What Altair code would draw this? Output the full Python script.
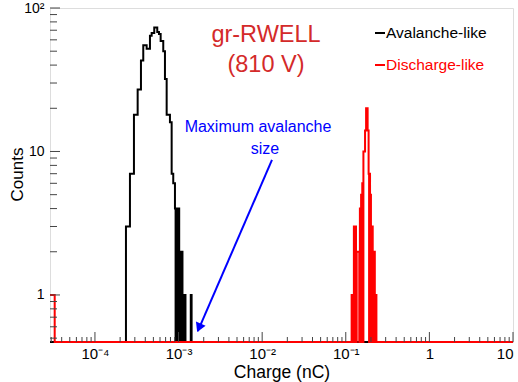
import altair as alt
import pandas as pd

X_MIN, X_MAX = 2.9e-5, 10.0
Y_MIN, Y_MAX = 0.47, 100.0
W, H = 463, 334
FONT = "Liberation Sans"

# Avalanche-like histogram: main body (bin edges in nC, counts per bin)
aval_body_edges = [2.349e-4, 2.622e-4, 2.927e-4, 3.242e-4, 3.550e-4, 3.783e-4, 4.153e-4,
                   4.549e-4, 4.767e-4, 5.120e-4, 5.562e-4, 5.830e-4, 6.107e-4, 6.561e-4,
                   6.875e-4, 7.206e-4, 7.889e-4, 8.268e-4, 8.640e-4, 9.056e-4]
aval_body_counts = [3, 7, 18, 27, 43, 55, 52, 64, 67, 73, 68, 66, 59, 50, 32, 18, 16, 7, 6]
# Avalanche-like tail: fine bins starting at 9.056e-4 nC, width 1.6e-5 nC
aval_tail_lo, aval_tail_w = 9.056e-4, 1.6e-5
aval_tail_counts = [4, 0, 4, 0, 4, 0, 4, 0, 2, 0, 2, 0, 2, 0, 1, 0, 1, 0, 1, 0]
# isolated last avalanche bin
aval_last_bin = [1.400e-3, 1.432e-3]
aval_last_count = 1

# Discharge-like histogram: one low bin at the left edge, then fine bins
disc_low_bin = [X_MIN, 3.3e-5]
disc_low_count = 1
disc_lo, disc_w = 0.1175, 0.0025
disc_counts = [1, 0, 1, 3, 0, 3, 0, 2, 2, 2, 2, 0, 4, 0, 5, 0, 6, 0,
               10, 10, 10, 14, 14, 20, 20, 20, 14, 14, 7, 0, 7, 0, 5, 0, 3, 0, 3,
               0, 0, 2, 0, 2, 0, 1, 0, 1, 0]

x_major = [1e-4, 1e-3, 1e-2, 1e-1, 1.0, 10.0]
y_major = [1.0, 10.0, 100.0]


def grid(lo, w, n):
    return [lo + i * w for i in range(n + 1)]


def steps(edges, counts):
    return pd.DataFrame({"q": list(edges), "n": list(counts) + [counts[-1]]})


tail_edges = grid(aval_tail_lo, aval_tail_w, len(aval_tail_counts))
aval_edges = ([X_MIN] + aval_body_edges + tail_edges[1:] + aval_last_bin + [X_MAX])
aval_counts = ([0] + aval_body_counts + aval_tail_counts + [0, aval_last_count, 0])

disc_grid = grid(disc_lo, disc_w, len(disc_counts))
disc_edges = disc_low_bin + disc_grid + [X_MAX]
disc_all = [disc_low_count, 0] + disc_counts + [0]

x_minor = [k * 10.0 ** e for e in range(-5, 1) for k in range(2, 10)
           if X_MIN <= k * 10.0 ** e <= X_MAX]
y_minor = [k * 10.0 ** e for e in range(-1, 2) for k in range(2, 10)
           if Y_MIN <= k * 10.0 ** e <= Y_MAX]

xs = alt.Scale(type="log", domain=[X_MIN, X_MAX], nice=False)
ys = alt.Scale(type="log", domain=[Y_MIN, Y_MAX], nice=False)

x_label_expr = ("datum.value < 0.0005 ? '10⁻⁴' : datum.value < 0.005 ? '10⁻³' : "
                "datum.value < 0.05 ? '10⁻²' : datum.value < 0.5 ? '10⁻¹' : "
                "datum.value < 5 ? '1' : '10'")
y_label_expr = "datum.value > 50 ? '10²' : datum.value > 5 ? '10' : '1'"


def hist_layer(df, color, with_axes=False):
    if with_axes:
        xenc = alt.X("q:Q", scale=xs, axis=alt.Axis(
            values=x_major, labelExpr=x_label_expr, ticks=False, tickSize=0, domain=False,
            grid=False, labelFont=FONT, labelFontSize=15, labelColor="black", labelPadding=4,
            title="Charge (nC)", titleFont=FONT, titleFontSize=17.5, titleFontWeight="normal",
            titleColor="black", titlePadding=2))
        yenc = alt.Y("yp:Q", scale=ys, axis=alt.Axis(
            values=y_major, labelExpr=y_label_expr, ticks=False, tickSize=0, domain=False,
            grid=False, labelFont=FONT, labelFontSize=14, labelColor="black", labelPadding=6,
            title="Counts", titleFont=FONT, titleFontSize=17, titleFontWeight="normal",
            titleColor="black", titleX=-32.5, titleY=H / 2 - 1, titleAngle=270,
            titleBaseline="middle", titleAlign="center"))
    else:
        xenc = alt.X("q:Q", scale=xs)
        yenc = alt.Y("yp:Q", scale=ys)
    return (alt.Chart(df)
            .transform_calculate(yp=f"max(datum.n, {Y_MIN})")
            .mark_line(interpolate="step-after", color=color, strokeWidth=2)
            .encode(x=xenc, y=yenc))


aval = hist_layer(steps(aval_edges, aval_counts), "black", with_axes=True)
disc = hist_layer(steps(disc_edges, disc_all), "#ff0000")

tick_col = "#444444"
xt_major = alt.Chart(pd.DataFrame({"q": x_major})).mark_rule(color=tick_col, strokeWidth=1).encode(
    x=alt.X("q:Q", scale=xs), y=alt.value(H), y2=alt.value(H - 10))
xt_minor = alt.Chart(pd.DataFrame({"q": x_minor})).mark_rule(color=tick_col, strokeWidth=1).encode(
    x=alt.X("q:Q", scale=xs), y=alt.value(H), y2=alt.value(H - 5))
yt_major = alt.Chart(pd.DataFrame({"yp": y_major})).mark_rule(color=tick_col, strokeWidth=1).encode(
    y=alt.Y("yp:Q", scale=ys), x=alt.value(0), x2=alt.value(10))
yt_minor = alt.Chart(pd.DataFrame({"yp": y_minor})).mark_rule(color=tick_col, strokeWidth=1).encode(
    y=alt.Y("yp:Q", scale=ys), x=alt.value(0), x2=alt.value(7))

# Annotation arrow (data coordinates)
arrow_df = pd.DataFrame({"q": [0.0131], "yp": [8.73], "q2": [1.70e-3], "yp2": [0.56]})
arrow = alt.Chart(arrow_df).mark_rule(color="#0000ff", strokeWidth=2).encode(
    x=alt.X("q:Q", scale=xs), y=alt.Y("yp:Q", scale=ys), x2="q2:Q", y2="yp2:Q")
head = alt.Chart(pd.DataFrame({"q": [1.755e-3], "yp": [0.59]})).mark_point(
    shape="triangle-up", filled=True, color="#0000ff", size=110, angle=203, opacity=1).encode(
    x=alt.X("q:Q", scale=xs), y=alt.Y("yp:Q", scale=ys))


def label(text, x, y, size, color, align="center"):
    return alt.Chart(pd.DataFrame({"t": [text]})).mark_text(
        font=FONT, fontSize=size, color=color, align=align, baseline="middle").encode(
        text="t:N", x=alt.value(x), y=alt.value(y))


texts = [
    label("gr-RWELL", 216, 27, 23.5, "#d42a2a"),
    label("(810 V)", 216, 57, 23.5, "#d42a2a"),
    label("Maximum avalanche", 208, 119, 16, "#0000ff"),
    label("size", 215, 141, 16, "#0000ff"),
    label("Avalanche-like", 336, 25, 15.5, "black", "left"),
    label("Discharge-like", 336, 57, 15.5, "#ff0000", "left"),
]
leg_black = alt.Chart(pd.DataFrame({"t": [0]})).mark_rule(color="black", strokeWidth=2).encode(
    x=alt.value(325), x2=alt.value(335), y=alt.value(25))
leg_red = alt.Chart(pd.DataFrame({"t": [0]})).mark_rule(color="#ff0000", strokeWidth=2).encode(
    x=alt.value(325), x2=alt.value(335), y=alt.value(57))

chart = alt.layer(
    aval, disc, xt_minor, xt_major, yt_minor, yt_major, arrow, head,
    leg_black, leg_red, *texts
).properties(
    width=W, height=H,
    autosize=alt.AutoSizeParams(type="none"),
    padding={"left": 50, "top": 8, "right": 5, "bottom": 40},
).configure_view(stroke="black", strokeWidth=1).configure(background="white")

chart.save("out.html", embed_options={"renderer": "svg", "actions": False})
